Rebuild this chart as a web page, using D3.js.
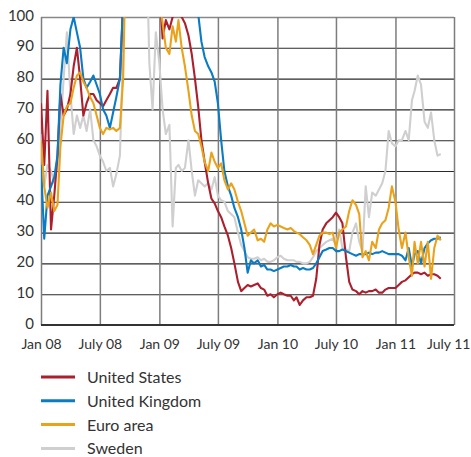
<!DOCTYPE html>
<html><head><meta charset="utf-8">
<script src="https://cdn.jsdelivr.net/npm/d3@7"></script>
<style>
html,body{margin:0;padding:0;background:#fff;}
svg{display:block;}
text{font-family:Lato,"Open Sans",sans-serif;fill:#333;}
</style></head>
<body>
<svg id="chart" width="471" height="457"></svg>
<script>
// Sampling: three points per month (1st, 11th, 21st) starting Jan 2008
const startYear = 2008;
const pointsPerMonth = 3;

const seriesNames = ["United States", "United Kingdom", "Euro area", "Sweden"];
const xTickLabels = ["Jan 08","July 08","Jan 09","July 09","Jan 10","July 10","Jan 11","July 11"];
const yTickValues = [0,10,20,30,40,50,60,70,80,90,100];

const unitedStates = [
 72,52,76,31,42,55,75,68,70,75,84,90,80,68,72,75,75,73,
 72,71,73,75,77,77,80,105,130,130,130,130,130,130,130,130,130,130,
 110,93,99,96,100,101,101,100,98,94,88,80,71,60,53,46,41,39.5,
 37,35,32,29,25,20,14,11,12,13,12.5,13,13.5,12,11.5,9.5,10,9,
 10,10.5,10,9.5,9.5,8,9,6.5,8,9,9,9.5,15,26,31,33,34,35,
 36.5,35,33,22,14,11.5,11,10,11,10.5,11,11,11.5,10.5,10.5,11.5,12,12,
 12,13,14,14.5,15.5,16.5,17,17,16.5,17,16,16.5,16.5,16,15
];
const unitedKingdom = [
 52,28,42,45,48,55,78,90,85,96,100,95,90,80,77,79,81,78,
 75,70,68,64,69,74,80,105,130,130,130,130,130,130,130,130,130,130,
 130,130,130,130,130,130,130,130,130,130,130,110,101,92,87,84,82,79,
 72,60,50,45,42,38,35,31,25,17,21,20,21,19,19.5,18,18,17.5,
 18,18.5,19,19,19.5,19,19,18,18.5,18,18,18.5,20,22,24,24.5,25,25,
 24,24,24.5,24,23.5,23,22.5,23,23,23,23.5,23,23.5,23.5,24,23.5,23,23,
 23,23,22.5,21,25,19,23,24,20,25,26.5,27.5,28,28,28.5
];
const euroArea = [
 60,45,38,43,37,39,58,68,71,72,77,81,82,79,77,74,72,68,
 64,62,64,63.5,64,63,64,80,130,130,130,130,130,130,130,130,130,130,
 105,98,90,88,97,92,99,90,84,76,68,63,62,58,53,50,56,53,
 51,52.5,47,44,46,44,40,37,33,29,30,31,27.5,28,27,31,33,32,
 32.5,32,31.5,31,31.5,30.5,30,29.5,28.5,27.5,26,23,26,29,30,30,29.5,30,
 25,30,31,32,37,40.5,39,36,22,24,21,27,25,31,33,34,38,45,
 40,31,25,30,22,16,27,20,27,19,27,15,25,29,27.5
];
const sweden = [
 62,45,52,50,46,52,64,80,95,75,62,68,64,68,63,70,60,58,
 55,53,50,51,45,49,55,90,130,130,130,130,130,130,130,85,70,95,
 85,70,62,65,32,51,52,50,51,60,50,42,47,46,45,46,44,48,
 42,40.5,40,37,36,35,30,26,24,22,21.5,21.5,22,21,21.5,20.5,20.5,21,
 22,22.5,21.5,21,21,21,20.5,20.5,20,20,20.5,22,24,25,26,27,27.5,28,
 26,31,25,24.5,24,30,33,27,24,45,35,43,42,44,46,50,63,59,
 58,60,60,63,60,73,76,81,78,66,64,69,60,55,55.5
];

const colors = ["#ac1f2d", "#0a7cc4", "#eba21b", "#cfcfcf"];
const allSeries = [unitedStates, unitedKingdom, euroArea, sweden];

const plot = {left: 41, right: 454, top: 17, bottom: 325};
const svg = d3.select("#chart");

const dates = d3.range(unitedStates.length).map(k =>
  new Date(startYear, Math.floor(k / pointsPerMonth), 1 + 10 * (k % pointsPerMonth)));

const x = d3.scaleTime()
  .domain([new Date(2008,0,1), new Date(2011,6,1)])
  .range([plot.left, plot.right]);
const y = d3.scaleLinear().domain([0,100]).range([plot.bottom, plot.top]);

const tickDates = d3.range(xTickLabels.length).map(i => new Date(2008, i*6, 1));

// clip
svg.append("defs").append("clipPath").attr("id","clip")
  .append("rect").attr("x",plot.left).attr("y",plot.top)
  .attr("width",plot.right-plot.left).attr("height",plot.bottom-plot.top);

// horizontal gridlines
const yAxis = d3.axisLeft(y).tickValues(yTickValues).tickSize(0).tickFormat(d3.format("d"));
const gy = svg.append("g").attr("transform",`translate(${plot.left},0)`).call(yAxis);
gy.select(".domain").remove();
gy.selectAll("text").attr("x",-7).attr("dy","0.2em").style("font-size","15px").style("fill","#333");
gy.selectAll(".tick").append("line")
  .attr("x1",0).attr("x2",plot.right-plot.left)
  .attr("stroke", d => d === 100 ? "#888" : "#2a2a2a")
  .attr("stroke-width", d => d === 100 ? 1.3 : 1.1);

// vertical gridlines
const xAxis = d3.axisBottom(x).tickValues(tickDates).tickSize(0)
  .tickFormat((d,i) => xTickLabels[i]);
const gx = svg.append("g").attr("transform",`translate(0,${plot.bottom})`).call(xAxis);
gx.select(".domain").remove();
gx.selectAll("text").attr("y",14).attr("dy","0.71em").style("font-size","14px").style("fill","#333");
gx.selectAll(".tick").filter((d,i) => i === xTickLabels.length - 1).select("text")
  .attr("text-anchor","end").attr("x", 470 - plot.right);
gx.selectAll(".tick").append("line")
  .attr("y1",0).attr("y2",-(plot.bottom-plot.top))
  .attr("stroke","#7d7d7d").attr("stroke-width",1.5);

// series lines
const line = d3.line().x((d,i) => x(dates[i])).y(d => y(d));
const drawOrder = [3,0,1,2];
const linesG = svg.append("g").attr("clip-path","url(#clip)");
drawOrder.forEach(si => {
  linesG.append("path").datum(allSeries[si])
    .attr("d", line).attr("fill","none")
    .attr("stroke", colors[si]).attr("stroke-width", 2.1)
    .attr("stroke-linejoin","round");
});

// bottom axis line
svg.append("line").attr("x1",plot.left).attr("x2",plot.right)
  .attr("y1",plot.bottom).attr("y2",plot.bottom)
  .attr("stroke","#333").attr("stroke-width",2);

// legend
const leg = svg.append("g");
seriesNames.forEach((name,i) => {
  const yy = 377 + i*23.8;
  leg.append("line").attr("x1",41).attr("x2",75).attr("y1",yy).attr("y2",yy)
    .attr("stroke",colors[i]).attr("stroke-width",3);
  leg.append("text").attr("x",87).attr("y",yy+6).text(name)
    .style("font-size","16px").style("fill","#333");
});
</script>
</body></html>
